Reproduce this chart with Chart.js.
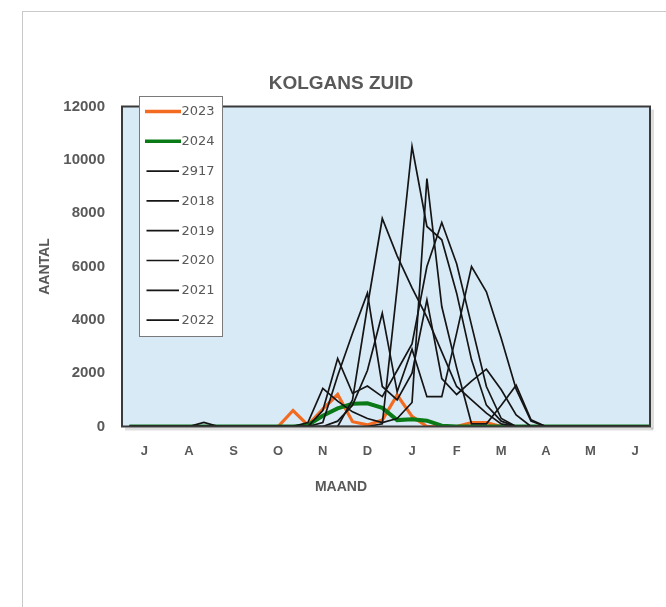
<!DOCTYPE html>
<html>
<head>
<meta charset="utf-8">
<script src="https://cdn.jsdelivr.net/npm/chart.js@4.4.1/dist/chart.umd.min.js"></script>
<style>
  html, body { margin: 0; padding: 0; background: #ffffff; }
  #wrap { position: relative; width: 666px; height: 607px; overflow: hidden; }
  #frame { position: absolute; left: 22px; top: 11px; width: 720px; height: 720px; border: 1px solid #c9c9c9; box-sizing: border-box; }
  #c { position: absolute; left: 0; top: 0; }
</style>
</head>
<body>
<div id="wrap">
  <div id="frame"></div>
  <canvas id="c" width="666" height="607"></canvas>
</div>
<script>
// ---- DATA (10-day periods from 1 July; index 0..35) ----
const monthLabels = ["J", "A", "S", "O", "N", "D", "J", "F", "M", "A", "M", "J"];
const seriesNames = ["2023", "2024", "2917", "2018", "2019", "2020", "2021", "2022"];

//            Jul        Aug        Sep        Oct          Nov              Dec               Jan                Feb                Mar               Apr        May        Jun
const s2023 = [0,0,0,    0,0,0,     0,0,0,     0,0,600,     50,650,1200,     180,60,240,       1180,380,0,        0,0,150,           150,0,0,          0,0,0,     0,0,0,     0,0,0];
const s2024 = [0,0,0,    0,0,0,     0,0,0,     0,0,0,       50,400,680,      850,870,700,      240,270,220,       30,0,0,            0,0,0,            0,0,0,     0,0,0,     0,0,0];
const s2917 = [0,0,0,    0,0,0,     0,0,0,     0,0,0,       0,150,1900,      3500,5000,1500,   1000,2000,4750,    1800,1200,1700,    2150,1380,430,    0,0,0,     0,0,0,     0,0,0];
const s2018 = [0,0,0,    0,0,150,   0,0,0,     0,0,0,       0,0,0,           0,0,100,          5200,10500,7500,   7000,5000,2500,    800,200,0,        0,0,0,     0,0,0,     0,0,0];
const s2019 = [0,0,0,    0,0,0,     0,0,0,     0,0,0,       150,1430,950,    550,300,150,      300,900,9300,      4500,2200,100,     100,800,1550,     250,0,0,   0,0,0,     0,0,0];
const s2020 = [0,0,0,    0,0,0,     0,0,0,     0,0,0,       0,0,0,           1000,4500,7800,   6400,5200,4100,    2800,1500,1000,    500,100,0,        0,0,0,     0,0,0,     0,0,0];
const s2021 = [0,0,0,    0,0,0,     0,0,0,     0,0,0,       0,600,2550,      1240,1520,1120,   2100,3100,6000,    7650,6100,3800,    1500,300,0,       0,0,0,     0,0,0,     0,0,0];
const s2022 = [0,0,0,    0,0,0,     0,0,0,     0,0,0,       0,0,200,         800,2100,4250,    1300,2900,1120,    1120,3500,6000,    5050,3300,1400,   200,0,0,   0,0,0,     0,0,0];

const yTicks = [0, 2000, 4000, 6000, 8000, 10000, 12000];

const allSeries = [s2023, s2024, s2917, s2018, s2019, s2020, s2021, s2022];
const colors = ["#f26b21", "#0a7a16", "#151515", "#151515", "#151515", "#151515", "#151515", "#151515"];
const widths = [3.2, 4, 1.7, 1.7, 1.7, 1.7, 1.7, 1.7];

const datasets = allSeries.map((arr, k) => ({
  label: seriesNames[k],
  data: arr.map((v, i) => ({ x: i, y: v })),
  borderColor: colors[k],
  backgroundColor: colors[k],
  borderWidth: widths[k],
  pointRadius: 0,
  tension: 0,
  fill: false,
  order: allSeries.length - k
}));

const FONT = "'Liberation Sans', Arial, sans-serif";
const GREY = "#595959";

const plotDecor = {
  id: 'plotDecor',
  beforeDatasetsDraw(chart) {
    const { ctx, chartArea: a } = chart;
    ctx.save();
    ctx.fillStyle = 'rgba(0,0,0,0.13)';
    ctx.fillRect(a.left + 3, a.bottom + 1, a.right - a.left, 3);
    ctx.fillRect(a.right + 1, a.top + 3, 3, a.bottom - a.top);
    ctx.fillStyle = '#d9eaf7';
    ctx.fillRect(a.left, a.top, a.right - a.left, a.bottom - a.top);
    ctx.restore();
  },
  afterDatasetsDraw(chart) {
    const { ctx, chartArea: a } = chart;
    ctx.save();
    ctx.strokeStyle = '#3a3a3a';
    ctx.lineWidth = 2;
    ctx.strokeRect(a.left, a.top, a.right - a.left, a.bottom - a.top);
    ctx.restore();
  },
  afterDraw(chart) {
    const { ctx } = chart;
    const bx = 139, by = 96, bw = 83, bh = 240;
    ctx.save();
    ctx.fillStyle = '#ffffff';
    ctx.fillRect(bx, by, bw, bh);
    ctx.strokeStyle = '#7a7a7a';
    ctx.lineWidth = 1;
    ctx.strokeRect(bx + 0.5, by + 0.5, bw, bh);
    chart.data.datasets.forEach((ds, k) => {
      const y = 111.5 + k * 29.8;
      ctx.strokeStyle = ds.borderColor;
      ctx.lineWidth = ds.borderWidth > 2 ? 3.5 : 1.7;
      ctx.beginPath();
      ctx.moveTo(k < 2 ? 145 : 146.5, y);
      ctx.lineTo(k < 2 ? 181 : 179, y);
      ctx.stroke();
      ctx.fillStyle = GREY;
      ctx.font = "13px 'DejaVu Sans', sans-serif";
      ctx.textBaseline = 'middle';
      ctx.textAlign = 'left';
      ctx.fillText(ds.label, 181.5, y + 0.5);
    });
    ctx.restore();
  }
};

new Chart(document.getElementById('c'), {
  type: 'line',
  data: { datasets },
  options: {
    responsive: false,
    animation: false,
    devicePixelRatio: 1,
    layout: { padding: { left: 32, right: 16, top: 0, bottom: 111.6 } },
    plugins: {
      legend: { display: false },
      tooltip: { enabled: false },
      title: {
        display: true,
        text: 'KOLGANS ZUID',
        color: GREY,
        font: { family: FONT, size: 19, weight: 'bold' },
        padding: { top: 72, bottom: 11.7 }
      },
      subtitle: {
        display: true,
        position: 'bottom',
        text: 'MAAND',
        color: GREY,
        font: { family: FONT, size: 14, weight: 'bold' },
        padding: { top: 12.1, bottom: 0 }
      }
    },
    scales: {
      x: {
        type: 'linear',
        min: -0.5,
        max: 35,
        grid: { display: false, drawTicks: false },
        border: { display: false },
        afterFit(scale) { scale.height = 40; },
        afterBuildTicks(scale) {
          scale.ticks = monthLabels.map((m, j) => ({ value: 3 * j + 1 }));
        },
        ticks: {
          padding: 16.7,
          color: GREY,
          font: { family: FONT, size: 13, weight: 'bold' },
          autoSkip: false,
          maxRotation: 0,
          callback: (v) => monthLabels[Math.round((v - 1) / 3)]
        }
      },
      y: {
        min: 0,
        max: 12000,
        grid: { display: false, drawTicks: false },
        border: { display: false },
        afterFit(scale) { scale.width = 90; },
        afterBuildTicks(scale) {
          scale.ticks = yTicks.map(v => ({ value: v }));
        },
        ticks: {
          padding: 17,
          color: GREY,
          font: { family: FONT, size: 15, weight: 'bold' },
          callback: (v) => String(v)
        },
        title: {
          display: true,
          text: 'AANTAL',
          color: GREY,
          font: { family: FONT, size: 14, weight: 'bold' },
          padding: { top: 4.6, bottom: 0 }
        }
      }
    }
  },
  plugins: [plotDecor]
});
</script>
</body>
</html>
